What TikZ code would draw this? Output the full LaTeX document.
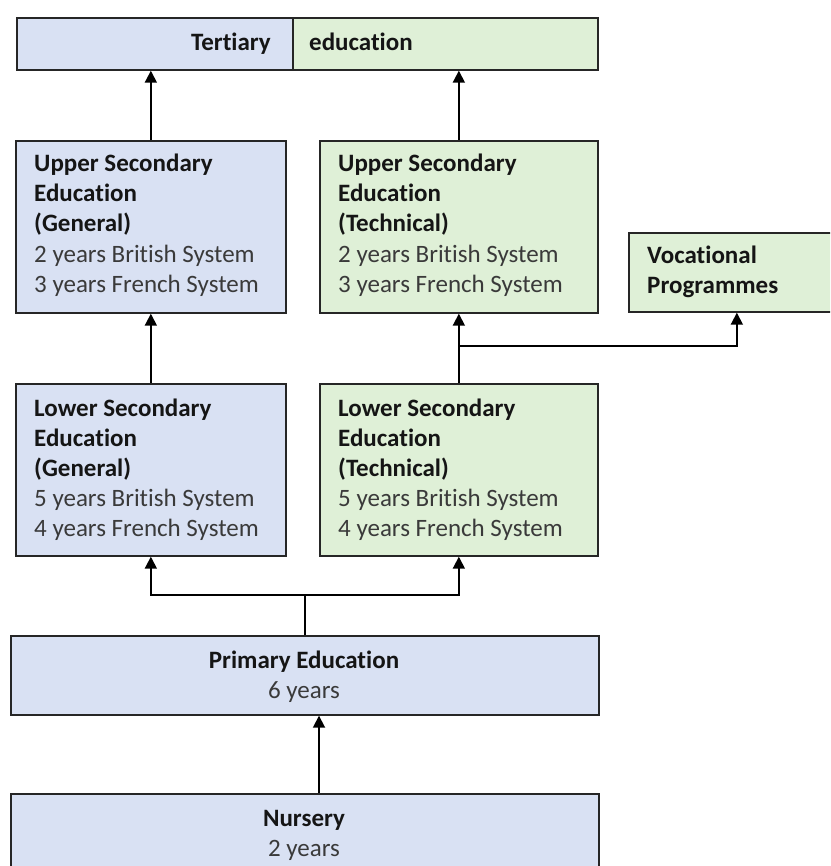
\documentclass[tikz,border=0pt]{standalone}
\usepackage{fontspec}
\setmainfont{Carlito}[Ligatures=NoCommon]
\usetikzlibrary{arrows.meta,calc}
\definecolor{bluefill}{HTML}{D9E1F3}
\definecolor{greenfill}{HTML}{DFF0D7}
\definecolor{edgecol}{HTML}{262626}
\definecolor{txtgray}{HTML}{3A3A3A}
\definecolor{txtdark}{HTML}{151515}
\tikzset{
  box/.style={draw=edgecol, line width=1.7pt, rectangle, inner sep=0pt, anchor=north west},
  bluebox/.style={box, fill=bluefill},
  greenbox/.style={box, fill=greenfill},
  arr/.style={draw=black, line width=1.8pt, -{Triangle[width=12pt,length=12pt]}},
  ln/.style={draw=black, line width=1.8pt},
  txt/.style={inner sep=0pt, align=left, anchor=base west, font=\fontsize{25}{30}\selectfont, text=txtgray},
  ctxt/.style={inner sep=0pt, align=center, anchor=base, font=\fontsize{25}{30}\selectfont, text=txtgray},
}
\newcommand{\bt}[1]{\textcolor{txtdark}{\bfseries #1}}
\begin{document}
\begin{tikzpicture}[x=1pt,y=-1pt]
\useasboundingbox (0,0) rectangle (830,866);
\clip (0,0) rectangle (830,866);
% boxes
\node[bluebox, minimum width=276, minimum height=52] (tl) at (16,17) {};
\node[greenbox, minimum width=305, minimum height=52] (tr) at (292,17) {};
\node[inner sep=0pt, anchor=base east, font=\fontsize{25}{30}\selectfont, text=txtdark] (tltxt) at (271,51) {\bfseries Tertiary};
\node[inner sep=0pt, anchor=base west, font=\fontsize{25}{30}\selectfont, text=txtdark] (trtxt) at (309,51) {\bfseries education};

\node[bluebox, minimum width=270, minimum height=172] (ug) at (15,140) {};
\node[greenbox, minimum width=278, minimum height=172] (ut) at (319,140) {};
\node[txt] (ugtxt) at (34,292) {\bt{Upper Secondary}\\\bt{Education}\\\bt{(General)}\\2 years British System\\3 years French System};
\node[txt] (uttxt) at (338,292) {\bt{Upper Secondary}\\\bt{Education}\\\bt{(Technical)}\\2 years British System\\3 years French System};

\node[greenbox, minimum width=216, minimum height=79] (vp) at (628,232) {};
\node[txt] (vptxt) at (647,294) {\bt{Vocational}\\\bt{Programmes}};

\node[bluebox, minimum width=270, minimum height=172] (lg) at (15,383) {};
\node[greenbox, minimum width=278, minimum height=172] (lt) at (319,383) {};
\node[txt] (lgtxt) at (34,536) {\bt{Lower Secondary}\\\bt{Education}\\\bt{(General)}\\5 years British System\\4 years French System};
\node[txt] (lttxt) at (338,536) {\bt{Lower Secondary}\\\bt{Education}\\\bt{(Technical)}\\5 years British System\\4 years French System};

\node[bluebox, minimum width=588, minimum height=79] (pe) at (10,635) {};
\node[ctxt] (petxt) at (304,698) {\bt{Primary Education}\\6 years};

\node[bluebox, minimum width=588, minimum height=100] (ns) at (10,793) {};
\node[ctxt] (nstxt) at (304,856) {\bt{Nursery}\\2 years};

% connectors
\draw[arr] (ug.north) -- (ug.north |- tl.south);
\draw[arr] (ut.north) -- (ut.north |- tr.south);
\draw[arr] (lg.north) -- (ug.south);
\coordinate (vsplit) at ($(lt.north)+(0,-37)$);
\draw[arr] (lt.north) -- (ut.south);
\draw[arr] (vsplit) -| (vp.south);
\coordinate (psplit) at ($(pe.north)+(0,-40)$);
\draw[ln] (pe.north) -- (psplit);
\draw[arr] (psplit) -| (lg.south);
\draw[arr] (psplit) -| (lt.south);
\draw[arr] (ns.north -| lt.west) -- (pe.south -| lt.west);
\end{tikzpicture}
\end{document}
